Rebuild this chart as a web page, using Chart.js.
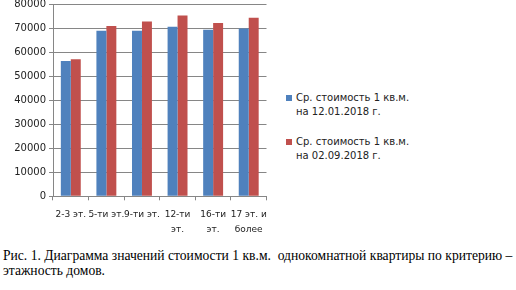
<!DOCTYPE html>
<html>
<head>
<meta charset="utf-8">
<script src="https://cdn.jsdelivr.net/npm/chart.js@4/dist/chart.umd.min.js"></script>
<style>
  html, body { margin: 0; padding: 0; background: #fff; }
  body { width: 516px; height: 290px; position: relative; overflow: hidden; }
  #wrap { position: absolute; left: 0; top: -5px; width: 274px; height: 249px; }
  #legend { position: absolute; left: 286px; top: 91px; font: 10px "DejaVu Sans", sans-serif; color: #222; }
  .item { position: relative; padding-left: 10px; line-height: 14px; margin-bottom: 16px; }
  .item span { position: absolute; left: 0; top: 4px; width: 6px; height: 6px; }
  #caption { position: absolute; left: 3px; top: 248px; font: 13.6px "Liberation Serif", serif; color: #000; line-height: 15px; white-space: nowrap; }
</style>
</head>
<body>
<div id="wrap"><canvas id="chart"></canvas></div>
<div id="legend"></div>
<div id="caption">Рис. 1. Диаграмма значений стоимости 1 кв.м.&nbsp; однокомнатной квартиры по критерию –<br>этажность домов.</div>
<script>
  // категории (этажность)
  const categories = [
    ['2-3 эт.'],
    ['5-ти эт.'],
    ['9-ти эт.'],
    ['12-ти', 'эт.'],
    ['16-ти', 'эт.'],
    ['17 эт. и', 'более'],
  ];
  const series1Label = ['Ср. стоимость 1 кв.м.', 'на 12.01.2018 г.'];
  const series2Label = ['Ср. стоимость 1 кв.м.', 'на 02.09.2018 г.'];
  const series1 = [56300, 68900, 68900, 70500, 69300, 69800];
  const series2 = [57000, 70800, 72700, 75200, 72100, 74300];
  const yMax = 80000;
  const yStep = 10000;

  const colors = ['#4F81BD', '#C0504D'];

  new Chart(document.getElementById('chart'), {
    type: 'bar',
    data: {
      labels: categories,
      datasets: [
        { label: series1Label.join(' '), data: series1, backgroundColor: colors[0] },
        { label: series2Label.join(' '), data: series2, backgroundColor: colors[1] },
      ],
    },
    options: {
      responsive: true,
      maintainAspectRatio: false,
      animation: false,
      events: [],
      layout: { padding: { left: 0, right: 3, top: 0, bottom: 0 } },
      plugins: { legend: { display: false }, tooltip: { enabled: false } },
      datasets: { bar: { categoryPercentage: 0.56, barPercentage: 1 } },
      scales: {
        x: {
          grid: { display: true, drawOnChartArea: false, color: '#868686', tickLength: 4, offset: true },
          border: { color: '#868686' },
          ticks: { color: '#222', font: { family: 'DejaVu Sans', size: 9, lineHeight: 1.65 }, maxRotation: 0, autoSkip: false, padding: 7 },
        },
        y: {
          min: 0,
          max: yMax,
          grid: { color: '#868686', tickLength: 4 },
          border: { color: '#868686' },
          ticks: { stepSize: yStep, color: '#222', font: { family: 'DejaVu Sans', size: 10 }, padding: 3,
                   callback: (v) => String(v) },
          afterFit: (s) => { s.width = 53; },
        },
      },
    },
  });

  // легенда справа
  const lg = document.getElementById('legend');
  [series1Label, series2Label].forEach((lbl, i) => {
    const d = document.createElement('div');
    d.className = 'item';
    d.innerHTML = '<span style="background:' + colors[i] + '"></span>' + lbl.join('<br>');
    lg.appendChild(d);
  });
</script>
</body>
</html>
